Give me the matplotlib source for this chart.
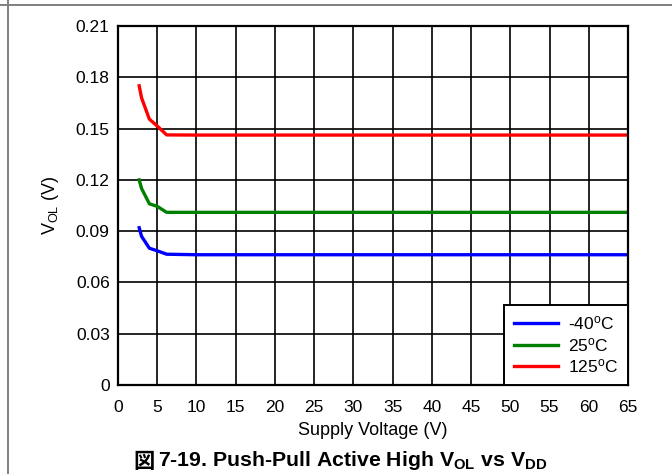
import matplotlib
matplotlib.use("Agg")
import matplotlib.pyplot as plt
from matplotlib.lines import Line2D

plt.rcParams['font.family'] = ['Liberation Sans', 'Noto Sans CJK JP', 'DejaVu Sans']
plt.rcParams['mathtext.fontset'] = 'custom'
plt.rcParams['mathtext.rm'] = 'Liberation Sans'
plt.rcParams['mathtext.it'] = 'Liberation Sans:italic'
plt.rcParams['mathtext.bf'] = 'Liberation Sans:bold'

# Data
vdd = [2.7, 3.0, 4.0, 5.0, 6.2, 10, 20, 30, 40, 50, 65]
vol_m40 = [0.092, 0.087, 0.080, 0.0785, 0.0765, 0.0762, 0.0762, 0.0762, 0.0762, 0.0762, 0.0762]
vol_25 = [0.120, 0.115, 0.106, 0.1045, 0.101, 0.101, 0.101, 0.101, 0.101, 0.101, 0.101]
vol_125 = [0.175, 0.168, 0.1555, 0.1515, 0.1463, 0.1462, 0.1462, 0.1462, 0.1462, 0.1462, 0.1462]
labels = ['-40$^{\\rm o}$C', '25$^{\\rm o}$C', '125$^{\\rm o}$C']
colors = ['#0000ff', '#008000', '#ff0000']

xticks = list(range(0, 70, 5))
yticks = [0, 0.03, 0.06, 0.09, 0.12, 0.15, 0.18, 0.21]
ytick_labels = ['0', '0.03', '0.06', '0.09', '0.12', '0.15', '0.18', '0.21']

fig = plt.figure(figsize=(6.72, 4.74), dpi=100)
ax = fig.add_axes([118 / 672, 89 / 474, 510 / 672, 359 / 474])

for y, c, lab in zip([vol_m40, vol_25, vol_125], colors, labels):
    ax.plot(vdd, y, color=c, lw=2.4, label=lab, solid_joinstyle='round')

ax.set_xlim(0, 65)
ax.set_ylim(0, 0.21)
ax.set_xticks(xticks)
ax.set_yticks(yticks)
ax.set_yticklabels(ytick_labels)
ax.grid(True, color='black', lw=1.2)
ax.set_axisbelow(True)
ax.tick_params(length=0, labelsize=12.5)
ax.tick_params(axis='x', pad=11)
ax.tick_params(axis='y', pad=6)
for s in ax.spines.values():
    s.set_linewidth(1.6)

ax.set_xlabel('Supply Voltage (V)', fontsize=13, labelpad=5)
ax.set_ylabel('V$_{\\rm OL}$ (V)', fontsize=13)
ax.yaxis.set_label_coords(-57 / 510, 0.5)

leg = ax.legend(loc='lower right', borderaxespad=0, fancybox=False, framealpha=1,
                edgecolor='black', fontsize=12.5, handlelength=2.55, handletextpad=0.6,
                labelspacing=0.2, borderpad=0.55)
leg.get_frame().set_linewidth(1.4)

# caption: CJK glyph drawn separately so the mathtext part keeps Liberation Sans
cap_y = 1 - 461 / 474
fig.text(133 / 672, cap_y, '図', family='Noto Sans CJK JP', fontweight='bold',
         fontsize=15.3, ha='left', va='center')
fig.text(158 / 672, cap_y, '7-19. Push-Pull Active High V$_{\\mathbf{OL}}$ vs V$_{\\mathbf{DD}}$',
         ha='left', va='center', fontsize=15.3, fontweight='bold')

# page border lines
fig.add_artist(Line2D([0, 1], [1 - 5 / 474, 1 - 5 / 474], color='#808080', lw=1.4,
                      transform=fig.transFigure))
fig.add_artist(Line2D([7.5 / 672, 7.5 / 672], [0, 1], color='#808080', lw=1.4,
                      transform=fig.transFigure))

fig.savefig('out.png', dpi=100)
